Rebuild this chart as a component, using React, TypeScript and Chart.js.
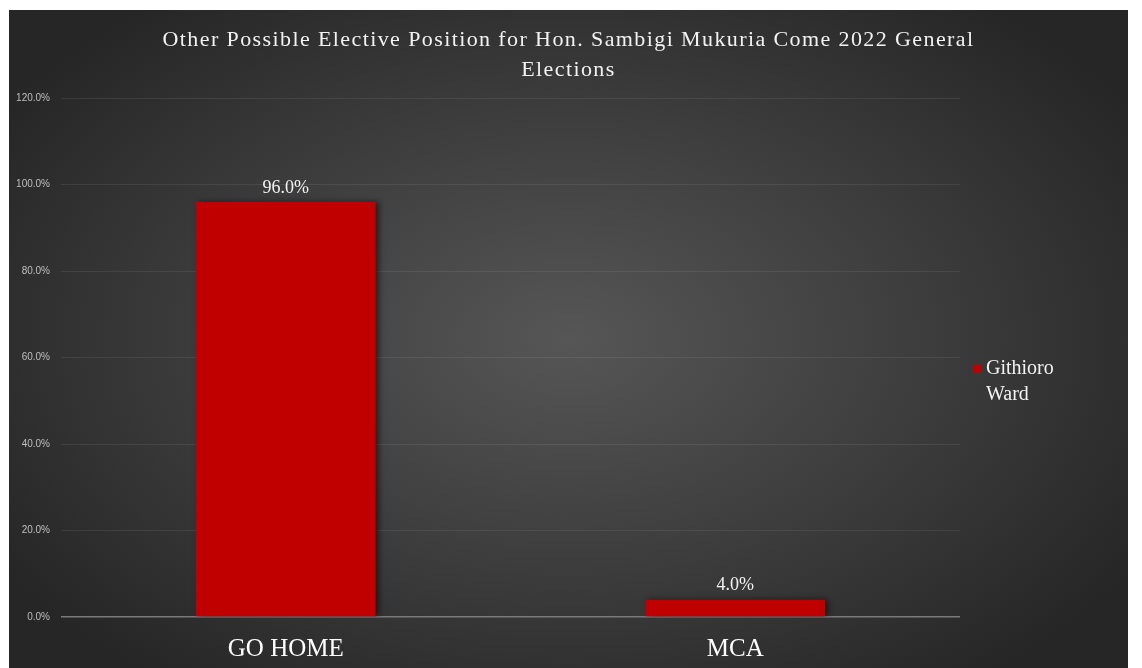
import React, { useEffect, useRef } from "react";
import { Chart, registerables } from "chart.js";

Chart.register(...registerables);

const categories = ["GO HOME", "MCA"];
const seriesLabel = ["Githioro", "Ward"];
const values = [96.0, 4.0];
const yTicks = [0, 20, 40, 60, 80, 100, 120];
const titleLines = [
  "Other Possible Elective Position for Hon. Sambigi Mukuria Come 2022 General",
  "Elections",
];

const BAR_COLOR = "#c00000";
const SERIF = "'Liberation Serif', 'DejaVu Serif', serif";

const shadowPlugin = {
  id: "barShadow",
  beforeDatasetsDraw(chart: any) {
    const ctx = chart.ctx;
    ctx.save();
    ctx.shadowColor = "rgba(0,0,0,0.55)";
    ctx.shadowBlur = 6;
    ctx.shadowOffsetX = 3;
    ctx.shadowOffsetY = 0;
  },
  afterDatasetsDraw(chart: any) {
    chart.ctx.restore();
  },
};

const labelPlugin = {
  id: "valueLabels",
  afterDraw(chart: any) {
    const ctx = chart.ctx;
    const meta = chart.getDatasetMeta(0);
    ctx.save();
    // title, centred on the whole chart panel
    ctx.fillStyle = "#f2f2f2";
    ctx.font = `22px ${SERIF}`;
    ctx.textAlign = "center";
    ctx.textBaseline = "middle";
    (ctx as any).letterSpacing = "1.4px";
    titleLines.forEach((line, i) => {
      ctx.fillText(line, chart.width / 2, 30 + i * 30);
    });
    (ctx as any).letterSpacing = "0px";

    // value labels
    ctx.font = `18px ${SERIF}`;
    ctx.textBaseline = "bottom";
    meta.data.forEach((bar: any, i: number) => {
      const v = chart.data.datasets[0].data[i] as number;
      ctx.fillText(v.toFixed(1) + "%", bar.x, bar.y - 5);
    });

    // legend
    const area = chart.chartArea;
    const lx = area.right + 13;
    const ly = (area.top + area.bottom) / 2 + 15;
    ctx.fillStyle = BAR_COLOR;
    ctx.fillRect(lx, ly - 8, 8, 8);
    ctx.fillStyle = "#f2f2f2";
    ctx.font = `20px ${SERIF}`;
    ctx.textAlign = "left";
    ctx.textBaseline = "middle";
    const label = chart.data.datasets[0].label as string;
    label.split("\n").forEach((p: string, i: number) => {
      ctx.fillText(p, lx + 13, ly - 4 + i * 26);
    });
    ctx.restore();
  },
};

export default function App() {
  const ref = useRef<HTMLCanvasElement | null>(null);

  useEffect(() => {
    document.body.style.overflow = "hidden";
    const canvas = ref.current;
    if (!canvas) return;
    const chart = new Chart(canvas, {
      type: "bar",
      data: {
        labels: categories,
        datasets: [
          {
            label: seriesLabel.join("\n"),
            data: values,
            backgroundColor: BAR_COLOR,
            borderWidth: 0,
            categoryPercentage: 1,
            barPercentage: 0.4,
          },
        ],
      },
      options: {
        animation: false,
        responsive: false,
        maintainAspectRatio: false,
        layout: { padding: { left: 0, right: 168, top: 88, bottom: 0 } },
        plugins: {
          legend: { display: false },
          tooltip: { enabled: false },
          title: { display: false },
        },
        scales: {
          x: {
            grid: { display: false, drawTicks: false },
            border: { display: false },
            ticks: {
              color: "#ffffff",
              font: { family: SERIF, size: 25 },
              padding: 17,
            },
            afterFit(scale: any) {
              scale.height = 51;
            },
          },
          y: {
            min: 0,
            max: 120,
            afterBuildTicks(scale: any) {
              scale.ticks = yTicks.map((v) => ({ value: v }));
            },
            grid: {
              drawTicks: false,
              color: (c: any) =>
                c.tick && c.tick.value === 0 ? "#7a7a7a" : "rgba(255,255,255,0.08)",
              lineWidth: (c: any) => (c.tick && c.tick.value === 0 ? 1.5 : 1),
            },
            border: { display: false },
            ticks: {
              color: "#bfbfbf",
              font: { family: "'Liberation Sans', 'DejaVu Sans', sans-serif", size: 10 },
              padding: 11,
              callback: (v: any) => Number(v).toFixed(1) + "%",
            },
            afterFit(scale: any) {
              scale.width = 52;
            },
          },
        },
      },
      plugins: [shadowPlugin, labelPlugin],
    });
    return () => chart.destroy();
  }, []);

  return (
    <div
      style={{
        position: "absolute",
        left: 9,
        top: 10,
        width: 1119,
        height: 658,
        background:
          "radial-gradient(ellipse 60% 65% at 50% 50%, #565656 0%, #3c3c3c 55%, #262626 100%)",
      }}
    >
      <canvas ref={ref} width={1119} height={658} style={{ display: "block" }} />
    </div>
  );
}
